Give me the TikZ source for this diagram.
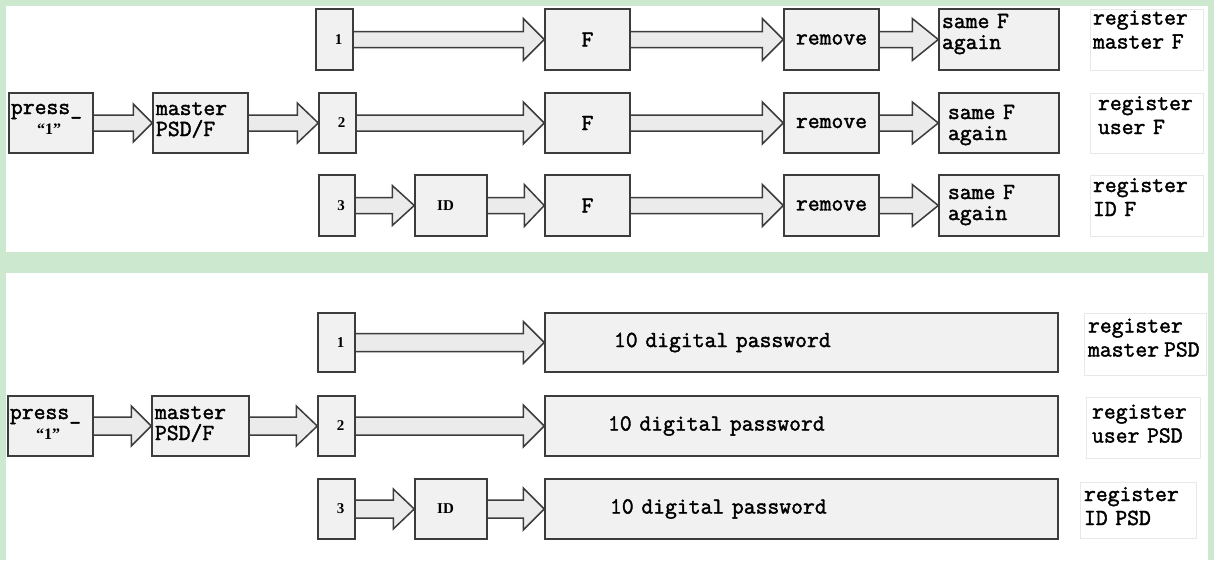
\documentclass[tikz,border=0pt]{standalone}
\usepackage{fontspec}
\setmainfont{Liberation Serif}
\newfontfamily\lmmono{Latin Modern Mono}[FakeBold=1.8]
\usetikzlibrary{calc}
\pgfdeclarelayer{back}
\pgfdeclarelayer{mid}
\pgfsetlayers{back,mid,main}
\definecolor{bg}{RGB}{204,232,206}
\definecolor{edge}{RGB}{60,60,60}
\definecolor{boxf}{RGB}{241,241,241}
\definecolor{arrf}{RGB}{235,235,235}
\definecolor{faint}{RGB}{232,232,232}
\newcommand\monof{\fontsize{23}{21}\selectfont\lmmono}
\newcommand\labf{\fontsize{23}{24}\selectfont\lmmono}
\newcommand\serf{\fontsize{15}{16}\selectfont\rmfamily\bfseries}
\newcommand\qf{\fontsize{16}{16}\selectfont\rmfamily\bfseries}
\tikzset{
  box/.style={draw=edge, line width=1.5pt, fill=boxf, inner sep=0pt, font=\monof},
  sz/.style 2 args={minimum width=#1pt, minimum height=#2pt},
  tw/.style 2 args={text width=#1pt, inner xsep=#2pt, align=left},
  fb/.style={text height=10pt, text depth=#1pt},
  lab/.style={draw=faint, line width=1pt, fill=white, inner ysep=0pt, font=\labf},
  barr/.style={draw=edge, line width=1.5pt, fill=arrf, line join=miter},
}
\newcommand\barrow[5]{%
  \draw[barr] let \p1=(#1.east), \p2=(#2.west) in
   (\x1,\y2+#3pt) -- (\x2-#5pt,\y2+#3pt) -- (\x2-#5pt,\y2+#4pt) -- (\x2,\y2)
   -- (\x2-#5pt,\y2-#4pt) -- (\x2-#5pt,\y2-#3pt) -- (\x1,\y2-#3pt);}
\newcommand\dg[1]{\hspace*{8pt}{\serf #1}}
\newcommand\idt{{\serf ID}\hspace*{11pt}}
\begin{document}
\begin{tikzpicture}[x=1pt,y=-1pt]
\useasboundingbox (0,0) rectangle (1214,560);
\begin{pgfonlayer}{back}
\fill[bg] (0,0) rectangle (1214,560);
\fill[white] (6,6) rectangle (1208,252);
\fill[white] (6,273) rectangle (1208,560);
\end{pgfonlayer}

% ---------- top panel ----------
\node[box, sz={37}{61}] (t1) at (334.5,39.5) {\dg{1}};
\node[box, sz={85}{61}] (tF1) at (587.5,39.5) {F};
\node[box, sz={95}{61}] (tR1) at (831.5,39.5) {remove};
\node[box, sz={120}{61}, tw={114}{3}, fb=33] (tS1) at (999,39.5) {same F\\again};
\node[lab, sz={113}{61}, tw={107}{3}, fb=40] (tL1) at (1146.5,39.5) {register\\master F};

\node[box, sz={84}{60}, tw={80}{2}, fb=28] (tP) at (51,123) {press\_\\[-1pt]\hspace*{26pt}{\qf “1”}};
\node[box, sz={95}{60}, tw={89}{3}, fb=26] (tM) at (200.5,123) {master\\PSD/F};
\node[box, sz={37}{60}] (t2) at (337.5,123) {\dg{2}};
\node[box, sz={85}{60}] (tF2) at (587.5,123) {F};
\node[box, sz={95}{60}] (tR2) at (831.5,123) {remove};
\node[box, sz={120}{60}, tw={102}{9}, fb=18] (tS2) at (999,123) {same F\\again};
\node[lab, sz={113}{60}, tw={97}{8}, fb=36] (tL2) at (1146.5,123) {register\\user F};

\node[box, sz={36}{61}] (t3) at (337,205.5) {\dg{3}};
\node[box, sz={72}{61}] (tID) at (451,205.5) {\idt};
\node[box, sz={85}{61}] (tF3) at (587.5,205.5) {F};
\node[box, sz={95}{61}] (tR3) at (831.5,205.5) {remove};
\node[box, sz={120}{61}, tw={102}{9}, fb=23] (tS3) at (999,205.5) {same F\\again};
\node[lab, sz={113}{61}, tw={107}{3}, fb=37] (tL3) at (1146.5,205.5) {register\\ID F};

% ---------- bottom panel ----------
\node[box, sz={37}{59}] (b1) at (336.5,342.5) {\dg{1}};
\node[box, sz={513}{59}, tw={375}{69}] (bW1) at (801.5,342.5) {10 digital password};
\node[lab, sz={122}{62}, tw={114}{4}, fb=33] (bL1) at (1145,344) {register\\master\kern5pt PSD};

\node[box, sz={85}{60}, tw={81}{2}, fb=24] (bP) at (50.5,426) {press\_\\[-1pt]\hspace*{26pt}{\qf “1”}};
\node[box, sz={97}{60}, tw={91}{3}, fb=24] (bM) at (200.5,426) {master\\PSD/F};
\node[box, sz={37}{60}] (b2) at (336.5,426) {\dg{2}};
\node[box, sz={513}{60}, tw={387}{63}] (bW2) at (801.5,426) {10 digital password};
\node[lab, sz={114}{61}, tw={102}{6}, fb=28] (bL2) at (1143,427.5) {register\\user PSD};

\node[box, sz={37}{60}] (b3) at (336.5,509) {\dg{3}};
\node[box, sz={72}{60}] (bID) at (451,509) {\idt};
\node[box, sz={513}{60}, tw={383}{65}] (bW3) at (801.5,509) {10 digital password};
\node[lab, sz={116}{56}, tw={108}{4}, fb=28] (bL3) at (1138,510) {register\\ID PSD};

\begin{pgfonlayer}{mid}
\barrow{t1}{tF1}{8}{21}{21}
\barrow{tF1}{tR1}{8}{21}{21}
\barrow{tR1}{tS1}{8}{21}{26}
\barrow{tP}{tM}{8}{19}{19}
\barrow{tM}{t2}{8}{20}{21}
\barrow{t2}{tF2}{8}{21}{21}
\barrow{tF2}{tR2}{8}{21}{21}
\barrow{tR2}{tS2}{8}{21}{26}
\barrow{t3}{tID}{8}{20}{22}
\barrow{tID}{tF3}{8}{21}{20}
\barrow{tF3}{tR3}{8}{21}{21}
\barrow{tR3}{tS3}{8}{21}{26}
\barrow{b1}{bW1}{9}{21}{21}
\barrow{bP}{bM}{9}{20}{20}
\barrow{bM}{b2}{9}{20}{21}
\barrow{b2}{bW2}{9}{21}{21}
\barrow{b3}{bID}{9}{20}{21}
\barrow{bID}{bW3}{9}{21}{21}
\end{pgfonlayer}
\end{tikzpicture}
\end{document}
